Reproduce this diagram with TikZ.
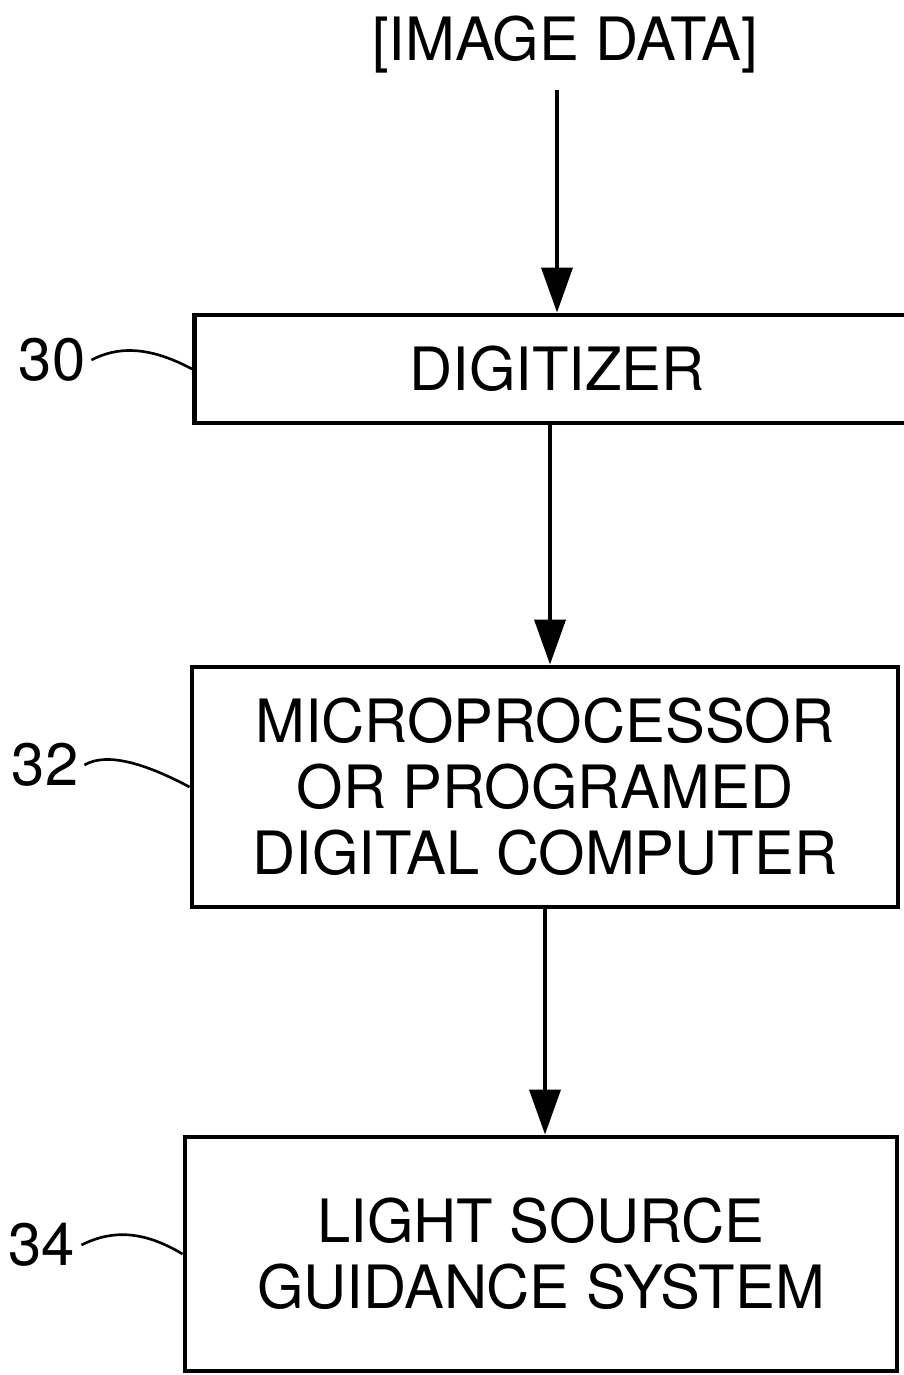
\documentclass[tikz,border=0pt]{standalone}
\usepackage{fontspec}
\setmainfont{TeX Gyre Heros}
\usetikzlibrary{positioning, arrows.meta}

\begin{document}
\begin{tikzpicture}[x = 0.02cm, y = -0.02cm,
  every node/.style = {font = \fontsize{34}{37.6}\selectfont},
  block/.style = {draw, line width = 2.8pt, align = center, inner sep = 0pt},
  flow/.style = {line width = 2.1pt, -{Triangle[width = 0.62cm, length = 0.9cm]}},
  leader/.style = {line width = 1.5pt}]
  \useasboundingbox (0,0) rectangle (903,1375);

  % nodes
  \node (data) at (565,45) {[IMAGE DATA]};
  \node [block, minimum width = 725*0.02cm, minimum height = 108*0.02cm] (dig) at (557,369) {DIGITIZER};
  \node [block, minimum width = 706*0.02cm, minimum height = 240*0.02cm] (proc) at (545,787) {MICROPROCESSOR\\OR PROGRAMED\\DIGITAL COMPUTER};
  \node [block, minimum width = 712*0.02cm, minimum height = 234*0.02cm] (guide) at (541,1254) {LIGHT SOURCE\\GUIDANCE SYSTEM};

  \node (l30) at (52,360) {30};
  \node (l32) at (45,765) {32};
  \node (l34) at (42,1245) {34};

  % edges
  \draw [flow] ([yshift = -0.2cm]data.south -| dig.north) -- (dig.north);
  \draw [flow] ([xshift = -0.14cm]dig.south) -- ([xshift = -0.14cm]dig.south |- proc.north);
  \draw [flow] (proc.south) -- (proc.south |- guide.north);

  % leaders
  \draw [leader] (l30.east) .. controls +(25,-13) and +(-45,-24) .. (dig.west);
  \draw [leader] (l32.east) .. controls +(22,-13) and +(-45,-24) .. (proc.west);
  \draw [leader] (l34.east) .. controls +(30,-15) and +(-40,-24) .. (guide.west);
\end{tikzpicture}
\end{document}
